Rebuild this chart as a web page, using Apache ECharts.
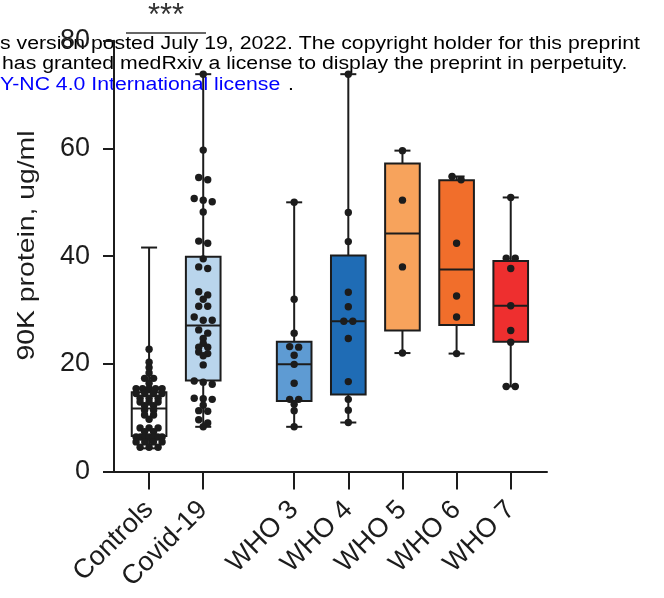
<!DOCTYPE html>
<html>
<head>
<meta charset="utf-8">
<script src="https://cdn.jsdelivr.net/npm/echarts@6/dist/echarts.min.js"></script>
<style>
  html, body { margin: 0; padding: 0; background: #ffffff; }
  #chart { width: 664px; height: 598px; }
</style>
</head>
<body>
<div id="chart"></div>
<script>
// Group labels along the x axis
const categories = ['Controls', 'Covid-19', 'WHO 3', 'WHO 4', 'WHO 5', 'WHO 6', 'WHO 7'];

// Individual measurements per group (ug/ml)
const controls = [22.7, 20.3, 19.3, 18.3, 17.3, 17.3, 16.4,
  15.4, 15.4, 15.4, 15.4, 15.4, 14.5, 14.5, 14.5, 14.5,
  13.6, 13.6, 13.6, 12.9, 12.9, 12.9, 12.2, 12.2, 11.4, 11.4,
  10.5, 10.5, 9.7, 8.1, 8.1, 8.1, 7.4, 7.4,
  6.4, 6.4, 6.4, 6.4, 6.4, 6.4, 6.4, 5.5, 5.5, 5.5, 5.5, 4.5, 4.5, 4.5];
const covid19 = [73.8, 59.7, 54.6, 54.2, 50.7, 50.4, 50.1, 48.2, 42.8, 42.4,
  39.5, 38.0, 37.7, 33.4, 32.8, 32.0, 30.7, 30.7, 28.7, 28.1, 28.1,
  26.3, 25.7, 24.7, 23.8, 23.1, 23.1, 22.2, 21.9, 21.5, 19.8,
  16.8, 16.6, 16.2, 13.6, 13.5, 13.4, 12.3, 11.3, 11.2, 9.6, 9.0, 8.3];
const who3 = [50.0, 32.0, 25.7, 23.2, 23.1, 21.6, 19.9, 16.4, 13.4, 13.4, 12.5, 11.3, 8.3];
const who4 = [73.8, 48.1, 42.7, 33.3, 30.6, 27.9, 27.9, 24.7, 16.7, 13.4, 11.4, 9.1];
const who5 = [59.6, 50.4, 38.0, 22.0];
const who6 = [54.8, 54.2, 42.4, 32.6, 28.7, 21.9];
const who7 = [50.9, 39.6, 39.6, 37.7, 30.8, 26.2, 24.0, 15.8, 15.8];

// Box summaries per group: lower whisker, Q1, median, Q3, upper whisker
const whiskerLow = [4.3, 8.3, 8.3, 9.1, 22.0, 21.9, 15.8];
const quartile1  = [6.6, 16.9, 13.1, 14.3, 26.2, 27.2, 24.1];
const medians    = [11.7, 27.1, 19.9, 27.9, 44.2, 37.5, 30.8];
const quartile3  = [14.7, 39.9, 24.1, 40.1, 57.2, 54.1, 39.1];
const whiskerHigh = [41.6, 73.8, 50.0, 73.8, 59.6, 54.8, 50.9];

// y-axis ticks
const yTicks = [0, 20, 40, 60, 80];

// Significance mark between Controls and Covid-19
const significance = '***';
const yTitle = '90K protein, ug/ml';

// ---- layout / style (not data) ----
const groupValues = [controls, covid19, who3, who4, who5, who6, who7];
const xSlots = [0, 1, 2.68, 3.68, 4.68, 5.68, 6.68];
const boxColors = ['#ffffff', '#b9d5ec', '#5e9bd3', '#1f6cb5', '#f7a35c', '#f16e2b', '#ee2f2f'];
const INK = '#1c1c1c';
const FONT = '"Liberation Sans", Arial, Helvetica, sans-serif';
const BOX_W = 0.64;      // box width in x units
const CAP_PX = 16;       // whisker cap width
const DOT_R = 3.7;       // point radius
const ROW_PX = 3.5;      // points closer than this (px) share a row
const WIDE = 1.18;       // horizontal stretch of the banner / title lettering

function labelFor(v) {
  let best = 0;
  xSlots.forEach((s, i) => { if (Math.abs(s - v) < Math.abs(xSlots[best] - v)) best = i; });
  return categories[best];
}

// Spread points sharing a row symmetrically around the group centre
function swarm(vals, cx, toY) {
  const pts = vals.map(v => ({ v, y: toY(v) })).sort((a, b) => a.y - b.y);
  const rows = [];
  pts.forEach(p => {
    const row = rows[rows.length - 1];
    if (row && p.y - row[0].y < ROW_PX) row.push(p); else rows.push([p]);
  });
  const out = [];
  rows.forEach(row => {
    const n = row.length;
    const step = n > 1 ? Math.min(9, 26 / (n - 1)) : 0;
    row.forEach((p, i) => out.push({ x: cx + (i - (n - 1) / 2) * step, y: p.y }));
  });
  return out;
}

function renderGroup(params, api) {
  const i = api.value(2);
  const xs = api.value(0);
  const cx = api.coord([xs, 0])[0];
  const toY = v => api.coord([xs, v])[1];
  const halfW = api.size([BOX_W, 0])[0] / 2;
  const yLow = toY(whiskerLow[i]), yHigh = toY(whiskerHigh[i]);
  const yQ1 = toY(quartile1[i]), yQ3 = toY(quartile3[i]), yMed = toY(medians[i]);
  const line = { stroke: INK, lineWidth: 2 };
  const children = [
    { type: 'line', shape: { x1: cx, y1: yHigh, x2: cx, y2: yLow }, style: line },
    { type: 'line', shape: { x1: cx - CAP_PX / 2, y1: yHigh, x2: cx + CAP_PX / 2, y2: yHigh }, style: line },
    { type: 'line', shape: { x1: cx - CAP_PX / 2, y1: yLow, x2: cx + CAP_PX / 2, y2: yLow }, style: line },
    { type: 'rect', shape: { x: cx - halfW, y: yQ3, width: 2 * halfW, height: yQ1 - yQ3 },
      style: { fill: boxColors[i], stroke: INK, lineWidth: 2 } },
    { type: 'line', shape: { x1: cx - halfW, y1: yMed, x2: cx + halfW, y2: yMed }, style: line }
  ];
  swarm(groupValues[i], cx, toY).forEach(p => {
    children.push({ type: 'circle', shape: { cx: p.x, cy: p.y, r: DOT_R }, style: { fill: INK } });
  });
  return { type: 'group', children };
}

function bannerLine(text, x, y, color) {
  return { type: 'text', x, y, scaleX: WIDE, silent: true,
    style: { text, fontSize: 18, fontFamily: FONT, fill: color, verticalAlign: 'middle' } };
}

const chart = echarts.init(document.getElementById('chart'), null, { renderer: 'canvas' });
chart.setOption({
  animation: false,
  backgroundColor: '#ffffff',
  grid: { left: 114, right: 117, top: 40.8, bottom: 126.5, containLabel: false, outerBoundsMode: 'none' },
  xAxis: {
    type: 'value',
    min: -0.648,
    max: 7.35,
    splitLine: { show: false },
    axisLine: { show: true, onZero: false, lineStyle: { color: INK, width: 2 } },
    axisTick: { show: true, length: 18, customValues: xSlots, lineStyle: { color: INK, width: 2 } },
    axisLabel: {
      customValues: xSlots, rotate: 45, margin: 34, fontSize: 27, fontFamily: FONT, color: INK,
      formatter: v => labelFor(v)
    }
  },
  yAxis: {
    type: 'value',
    min: yTicks[0],
    max: yTicks[yTicks.length - 1],
    interval: yTicks[1] - yTicks[0],
    splitLine: { show: false },
    axisLine: { show: true, onZero: false, lineStyle: { color: INK, width: 2 } },
    axisTick: { show: true, length: 11, lineStyle: { color: INK, width: 2 } },
    axisLabel: { fontSize: 27, fontFamily: FONT, color: INK, margin: 24 }
  },
  graphic: [
    // y-axis title
    { type: 'text', x: 27, y: 245.5, rotation: Math.PI / 2, scaleX: WIDE, silent: true,
      style: { text: yTitle, fontSize: 24, fontFamily: FONT, fill: INK, align: 'center', verticalAlign: 'middle' } },
    // significance bracket
    { type: 'text', x: 166, y: 16, silent: true,
      style: { text: significance, fontSize: 31, fontFamily: FONT, fill: '#333333', align: 'center', verticalAlign: 'middle' } },
    { type: 'line', silent: true, shape: { x1: 126, y1: 33, x2: 206, y2: 33 },
      style: { stroke: '#333333', lineWidth: 1.5 } },
    // preprint banner
    bannerLine('s version posted July 19, 2022. The copyright holder for this preprint', 0, 44, '#000000'),
    bannerLine('has granted medRxiv a license to display the preprint in perpetuity.', 2, 64.5, '#000000'),
    bannerLine('Y-NC 4.0 International license', 0, 85, '#0000ff'),
    bannerLine('.', 288, 85, '#000000')
  ],
  series: [{
    type: 'custom',
    clip: false,
    renderItem: renderGroup,
    encode: { x: 0, y: 1 },
    data: categories.map((c, i) => [xSlots[i], medians[i], i])
  }]
});
</script>
</body>
</html>
